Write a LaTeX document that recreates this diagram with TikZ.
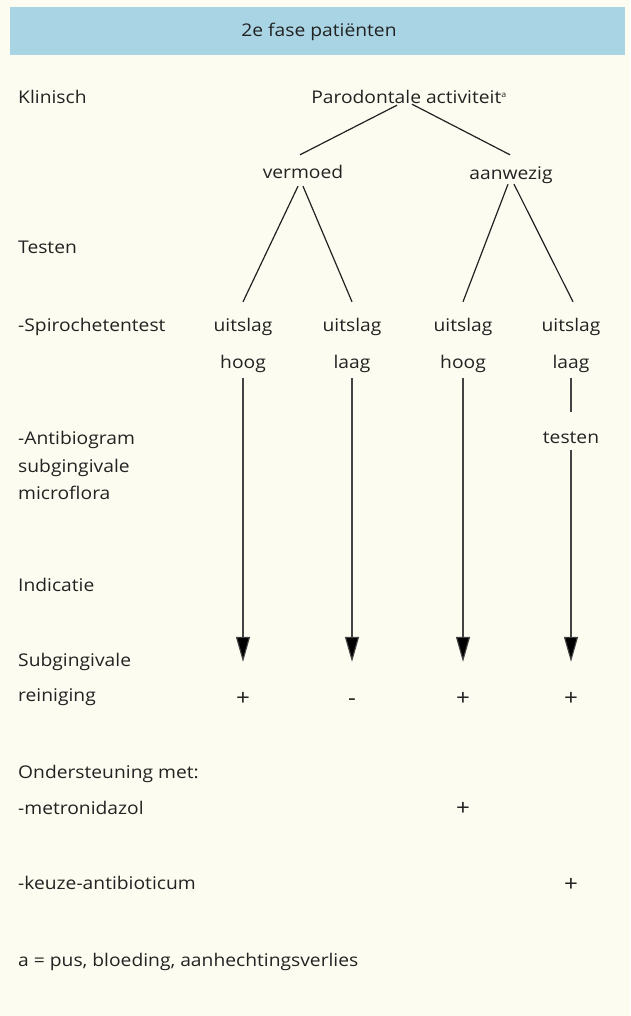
\documentclass[tikz,border=0pt]{standalone}
\usepackage{fontspec}
\setmainfont{Open Sans}[FakeStretch=1.1]
\usetikzlibrary{arrows.meta}
\definecolor{bgc}{HTML}{FDFCF0}
\definecolor{hdr}{HTML}{A9D4E4}
\definecolor{ink}{HTML}{222222}
\begin{document}
\begin{tikzpicture}[x=1pt,y=-1pt,
  txt/.style={inner sep=1pt,text height=13pt,text depth=4pt,font=\fontsize{17.5}{21}\selectfont,text=ink},
  lbl/.style={txt,anchor=base west},
  col/.style={txt,anchor=base},
  pls/.style={txt,anchor=base,font=\fontsize{22}{24}\selectfont},
  tree/.style={draw=ink,line width=1.2pt},
  shaft/.style={draw=ink!85,line width=1.1pt},
  down/.style={shaft,-{Triangle[length=25pt,width=14pt,fill=black]}}]
\fill[bgc] (0,0) rectangle (630,1016);
\useasboundingbox (0,0) rectangle (630,1016);
\fill[hdr] (10,7) rectangle (625,55);
\node[col] (title) at (319,37) {2e fase patiënten};
% left labels
\node[lbl] (k) at (17,104) {Klinisch};
\node[lbl] (t) at (17,254) {Testen};
\node[lbl] (sp) at (17,331) {-Spirochetentest};
\node[lbl] (ab) at (17,444) {-Antibiogram};
\node[lbl] (sg) at (17,472) {subgingivale};
\node[lbl] (mf) at (17,499) {microflora};
\node[lbl] (ind) at (17,591) {Indicatie};
\node[lbl] (sub) at (17,666) {Subgingivale};
\node[lbl] (rei) at (17,701) {reiniging};
\node[lbl] (ond) at (17,778) {Ondersteuning met:};
\node[lbl] (met) at (17,814) {-metronidazol};
\node[lbl] (keu) at (17,889) {-keuze-antibioticum};
\node[lbl] (fn) at (17,966) {a = pus, bloeding, aanhechtingsverlies};
% tree
\node[col] (root) at (409,104) {Parodontale activiteit\textsuperscript{\fontsize{8}{9}\selectfont a}};
\node[col] (verm) at (303,179) {vermoed};
\node[col] (aanw) at (511,180) {aanwezig};
\node[col] (u1) at (243,331) {uitslag};
\node[col] (u2) at (352,331) {uitslag};
\node[col] (u3) at (463,331) {uitslag};
\node[col] (u4) at (571,331) {uitslag};
\node[col] (h1) at (243,368) {hoog};
\node[col] (h2) at (352,368) {laag};
\node[col] (h3) at (463,368) {hoog};
\node[col] (h4) at (571,368) {laag};
\node[col] (tst) at (571,443) {testen};
\node[pls] (p1) at (243,705) {+};
\node[pls] (p2) at (352,705) {-};
\node[pls] (p3) at (463,705) {+};
\node[pls] (p4) at (571,705) {+};
\node[pls] (pm) at (463,815) {+};
\node[pls] (pk) at (571,891) {+};
% connectors
\draw[tree] ([xshift=-12pt,yshift=4pt]root.south) -- ([xshift=-3pt,yshift=10pt]verm.north);
\draw[tree] ([xshift=3pt,yshift=5pt]root.south) -- ([xshift=-1pt,yshift=11pt]aanw.north);
\draw[tree] ([xshift=-5pt,yshift=-2pt]verm.south) -- ([yshift=15pt]u1.north);
\draw[tree] ([xshift=0pt,yshift=-2pt]verm.south) -- ([yshift=15pt]u2.north);
\draw[tree] ([xshift=-3pt,yshift=1pt]aanw.south) -- ([yshift=15pt]u3.north);
\draw[tree] ([xshift=3pt,yshift=1pt]aanw.south) -- ([xshift=2pt,yshift=15pt]u4.north);
\draw[down] ([yshift=-5pt]h1.south) -- ([yshift=29pt]p1.north);
\draw[down] ([yshift=-5pt]h2.south) -- ([yshift=29pt]p2.north);
\draw[down] ([yshift=-5pt]h3.south) -- ([yshift=29pt]p3.north);
\draw[shaft] ([yshift=-5pt]h4.south) -- ([yshift=17pt]tst.north);
\draw[down] ([yshift=-2pt]tst.south) -- ([yshift=29pt]p4.north);
\end{tikzpicture}
\end{document}
